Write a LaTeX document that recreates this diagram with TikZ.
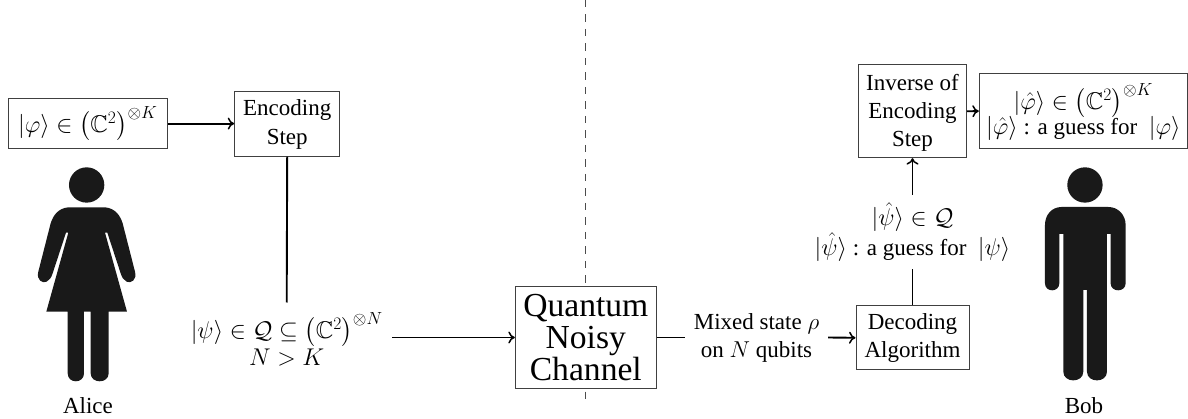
\RequirePackage{fix-cm}
\documentclass[tikz,border=0pt]{standalone}
\usepackage{amssymb}
\usepackage{fontspec}
\setmainfont{Liberation Serif}
\usetikzlibrary{arrows.meta}
\DeclareMathSizes{24.2}{24.2}{17.5}{13}
\newcommand{\mth}[1]{{\fontsize{24.2}{28}\selectfont$#1$}}
\tikzset{
  basefont/.style={font=\fontsize{23}{28}\selectfont},
  box/.style={draw=black!75,line width=1pt,inner sep=0pt,align=center,basefont},
  lab/.style={inner sep=0pt,align=center,basefont},
  conn/.style={line width=1.9pt,black},
  arr/.style={conn,-{Computer Modern Rightarrow[length=6.5pt,width=12pt,line width=1.5pt]}},
  sil/.style={fill=black!90,draw=none}
}
\begin{document}
\begin{tikzpicture}[x=1pt,y=-1pt]
\useasboundingbox (0,0) rectangle (1188,419);
% dashed divider
\coordinate (dtop) at (585.6,0);
\coordinate (dbot) at (585.6,404);
\draw[black!70,line width=1pt,dash pattern=on 7.5pt off 7pt] (dtop) -- (dbot);
% boxes
\node[box,minimum width=159pt,minimum height=49.3pt] (phi) at (87.8,123.6) {\mth{|\varphi\rangle \in \left(\mathbb{C}^2\right)^{\otimes K}}};
\node[box,minimum width=105pt,minimum height=64.3pt] (enc) at (287.2,124.1) {Encoding\\[1pt]Step};
\node[box,fill=white,minimum width=141pt,minimum height=102.4pt,font=\fontsize{33.6}{32}\selectfont] (chan) at (585.8,337.5) {Quantum\\Noisy\\Channel};
\node[box,minimum width=113pt,minimum height=64.3pt] (dec) at (912.5,337.8) {Decoding\\Algorithm};
\node[box,minimum width=108.4pt,minimum height=92.7pt] (inv) at (912.5,111.3) {\rule{0pt}{20pt}Inverse of\\Encoding\\Step};
\node[box,minimum width=208pt,minimum height=74.3pt,font=\fontsize{23}{27}\selectfont] (res) at (1083.3,111.1) {\rule{0pt}{28pt}\mth{|\hat\varphi\rangle \in \left(\mathbb{C}^2\right)^{\otimes K}}\\[-2pt]\mth{|\hat\varphi\rangle} : a guess for\ \ \mth{|\varphi\rangle}};
% labels
\node[lab,minimum width=210.6pt,minimum height=73.6pt] (psi) at (286.7,339.5) {\mth{|\psi\rangle \in \mathcal{Q} \subseteq \left(\mathbb{C}^2\right)^{\otimes N}}\\[-1pt]\mth{N > K}};
\node[lab,minimum width=143pt,minimum height=60pt] (mix) at (756.5,337.5) {Mixed state $\rho$\\on $N$ qubits};
\node[lab,minimum width=250pt,minimum height=74.3pt] (psih) at (912.5,232.1) {\mth{|\hat\psi\rangle \in \mathcal{Q}}\\\mth{|\hat\psi\rangle} : a guess for\ \ \mth{|\psi\rangle}};
\node[lab] (alice) at (88,406) {Alice};
\node[lab] (bob) at (1084,406) {Bob};
% connectors
\draw[arr] (phi.east) -- (enc.west |- phi.east);
\draw[conn] (enc.south) -- (psi.north);
\draw[arr] (psi.east |- chan.west) -- (chan.west);
\draw[conn] (chan.east) -- (mix.west);
\draw[arr] (mix.east) -- (dec.west);
\draw[conn] (dec.north) -- (psih.south);
\draw[arr] (psih.north) -- (inv.south);
\draw[arr] (inv.east) -- (res.west);
% Alice
\begin{scope}[shift={(0,80)},x=0.3333pt,y=-0.3333pt]
\fill[sil] (260,315) circle [radius=53];
\fill[sil] (205,382) -- (315,382) .. controls (345,385) and (360,405) .. (368,430)
  -- (405,575) .. controls (412,600) and (392,612) .. (380,605) .. controls (370,600) and (366,592) .. (362,580)
  -- (322,458) -- (315,458) -- (381,695) -- (326,695) -- (326,880)
  .. controls (326,912) and (272,912) .. (272,880) -- (272,695) -- (252,695) -- (252,880)
  .. controls (252,912) and (203,912) .. (203,880) -- (203,695) -- (139,695) -- (205,458) -- (198,458)
  -- (158,580) .. controls (154,592) and (150,600) .. (140,605) .. controls (128,612) and (108,600) .. (115,575)
  -- (152,430) .. controls (160,405) and (175,385) .. (205,382) -- cycle;
\end{scope}
% Bob
\begin{scope}[shift={(780,60)},x=0.3333pt,y=-0.3333pt]
\fill[sil] (915,375) circle [radius=53];
\fill[sil] (845,441) -- (985,441) .. controls (1015,441) and (1037,465) .. (1037,495)
  -- (1037,670) .. controls (1037,698) and (992,698) .. (992,670) -- (992,522) -- (981,522)
  -- (981,935) .. controls (981,970) and (921,970) .. (921,935) -- (921,690) -- (910,690)
  -- (910,935) .. controls (910,970) and (850,970) .. (850,935) -- (850,522) -- (838,522)
  -- (838,670) .. controls (838,698) and (795,698) .. (795,670) -- (795,495)
  .. controls (795,465) and (815,441) .. (845,441) -- cycle;
\end{scope}
\end{tikzpicture}
\end{document}
